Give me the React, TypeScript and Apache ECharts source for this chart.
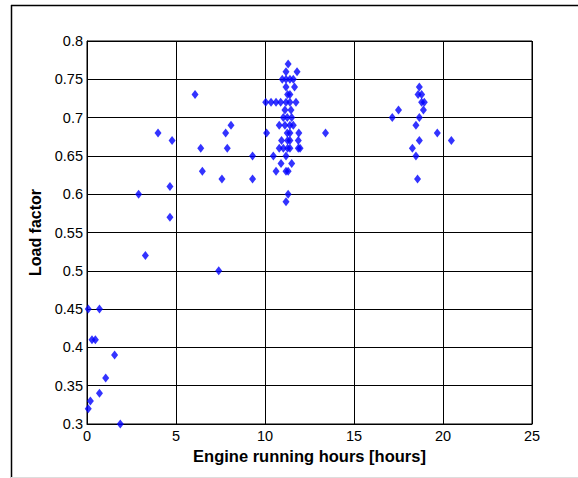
import React, { useEffect, useRef } from "react";
import * as echarts from "echarts";

// Engine running hours [hours] for each recorded voyage
const hours: number[] = [
  0.07, 0.7, 0.28, 0.47, 1.55, 1.05, 0.7, 0.19, 0.07, 1.87,
  2.9, 3.28, 3.99, 4.66, 4.66, 4.78, 6.07, 6.39, 6.48, 7.4, 7.58, 7.79, 7.88, 8.09, 9.3, 9.3,
  10.09, 10.47, 10.62,
  10.04, 10.34, 10.62, 10.88, 11.18, 11.4, 11.74,
  11.3,
  11.18, 11.8,
  10.97, 11.18, 11.4, 11.59,
  11.18, 11.66,
  11.27, 11.4,
  11.12, 11.46,
  11.03, 11.25, 11.5,
  10.8, 11.12, 11.4, 11.59,
  11.25, 11.4, 11.9, 13.4,
  10.93, 11.27, 11.4, 11.87,
  10.8, 11.03, 11.27, 11.4, 11.87, 11.97,
  11.18,
  10.9, 11.5,
  11.18, 11.3,
  11.3,
  11.18,
  17.15, 17.5, 18.67, 18.6, 18.8, 18.8, 18.95, 18.9, 18.67, 18.48, 19.68, 18.67, 18.28, 18.48, 18.57, 20.47,
];

// Matching load factor for each voyage
const loadFactor: number[] = [
  0.45, 0.45, 0.41, 0.41, 0.39, 0.36, 0.34, 0.33, 0.32, 0.3,
  0.6, 0.52, 0.68, 0.61, 0.57, 0.67, 0.73, 0.66, 0.63, 0.5, 0.62, 0.68, 0.66, 0.69, 0.65, 0.62,
  0.68, 0.65, 0.63,
  0.72, 0.72, 0.72, 0.72, 0.72, 0.72, 0.72,
  0.77,
  0.76, 0.76,
  0.75, 0.75, 0.75, 0.75,
  0.74, 0.74,
  0.73, 0.73,
  0.71, 0.71,
  0.7, 0.7, 0.7,
  0.69, 0.69, 0.69, 0.69,
  0.68, 0.68, 0.68, 0.68,
  0.67, 0.67, 0.67, 0.67,
  0.66, 0.66, 0.66, 0.66, 0.66, 0.66,
  0.65,
  0.64, 0.64,
  0.63, 0.63,
  0.6,
  0.59,
  0.7, 0.71, 0.74, 0.73, 0.73, 0.72, 0.72, 0.71, 0.7, 0.69, 0.68, 0.67, 0.66, 0.65, 0.62, 0.67,
];

const xTicks = { min: 0, max: 25, interval: 5 };
const yTicks = { min: 0.3, max: 0.8, interval: 0.05 };

const FONT = "'Liberation Sans', Arial, sans-serif";

export default function App() {
  const ref = useRef<HTMLDivElement>(null);

  useEffect(() => {
    if (!ref.current) return;
    const chart = echarts.init(ref.current, undefined, { renderer: "svg" });
    const points = hours.map((h, i) => [h, loadFactor[i]]);

    chart.setOption({
      animation: false,
      backgroundColor: "#ffffff",
      textStyle: { fontFamily: FONT },
      grid: {
        left: 87,
        right: 46,
        top: 41,
        bottom: 54,
        show: true,
        borderColor: "#000",
        borderWidth: 1,
      },
      graphic: [
        {
          type: "line",
          shape: { x1: 11, y1: 5.5, x2: 600, y2: 5.5 },
          style: { stroke: "#000", lineWidth: 1.5 },
          silent: true,
        },
        {
          type: "line",
          shape: { x1: 11.5, y1: 5, x2: 11.5, y2: 478 },
          style: { stroke: "#000", lineWidth: 1.5 },
          silent: true,
        },
        {
          type: "line",
          shape: { x1: 11, y1: 477.5, x2: 600, y2: 477.5 },
          style: { stroke: "#dddddd", lineWidth: 1 },
          silent: true,
        },
      ],
      xAxis: {
        type: "value",
        min: xTicks.min,
        max: xTicks.max,
        interval: xTicks.interval,
        name: "Engine running hours [hours]",
        nameLocation: "middle",
        nameGap: 23,
        nameTextStyle: {
          fontFamily: FONT,
          fontSize: 16.5,
          fontWeight: "bold",
          color: "#000",
        },
        axisLine: { show: true, onZero: false, lineStyle: { color: "#000", width: 1 } },
        axisTick: { show: true, inside: true, length: 4, lineStyle: { color: "#000" } },
        axisLabel: { color: "#000", fontSize: 14.5, margin: 4, fontFamily: FONT },
        splitLine: { show: true, lineStyle: { color: "#000", width: 1 } },
      },
      yAxis: {
        type: "value",
        min: yTicks.min,
        max: yTicks.max,
        interval: yTicks.interval,
        name: "Load factor",
        nameLocation: "middle",
        nameGap: 43,
        nameTextStyle: {
          fontFamily: FONT,
          fontSize: 16,
          fontWeight: "bold",
          color: "#000",
        },
        axisLine: { show: true, onZero: false, lineStyle: { color: "#000", width: 1 } },
        axisTick: { show: true, inside: true, length: 4, lineStyle: { color: "#000" } },
        axisLabel: {
          color: "#000",
          fontSize: 14.5,
          margin: 4,
          fontFamily: FONT,
          formatter: (v: number) => String(parseFloat(v.toFixed(2))),
        },
        splitLine: { show: true, lineStyle: { color: "#000", width: 1 } },
      },
      series: [
        {
          type: "scatter",
          data: points,
          symbol: "diamond",
          symbolSize: [7, 9],
          itemStyle: { color: "#0000ff" },
        },
      ],
    });

    return () => chart.dispose();
  }, []);

  return (
    <div
      ref={ref}
      style={{ position: "fixed", left: 0, top: 0, width: 578, height: 478 }}
    />
  );
}
